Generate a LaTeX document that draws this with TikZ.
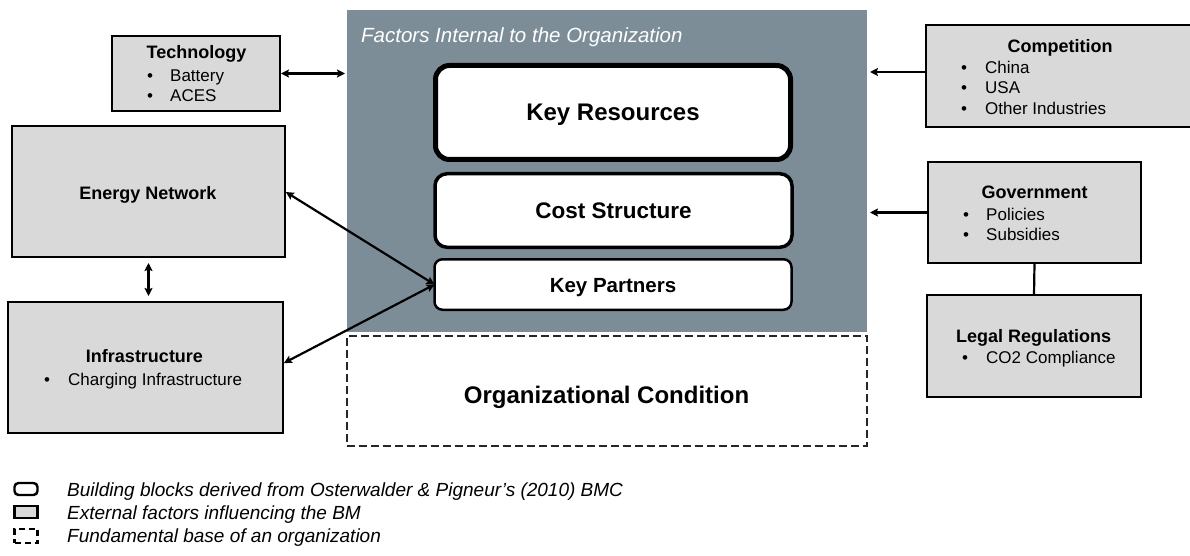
\documentclass[tikz,border=0pt]{standalone}
\usepackage{fontspec}
\setmainfont{Liberation Sans}
\usetikzlibrary{arrows.meta}
\definecolor{panelgray}{RGB}{125,141,152}
\definecolor{boxgray}{RGB}{217,217,217}

\begin{document}
\begin{tikzpicture}[x=1pt,y=-1pt,
  ext/.style={draw=black, fill=boxgray, line width=2.4pt, inner sep=0pt, outer sep=0pt},
  block/.style={draw=black, fill=white, rounded corners=#1, inner sep=0pt, outer sep=0pt},
  ttl/.style={font=\fontsize{18}{20}\selectfont\bfseries, anchor=base, inner sep=0pt},
  itm/.style={font=\fontsize{17}{20}\selectfont, anchor=base west, inner sep=0pt},
  bul/.style={font=\fontsize{17}{20}\selectfont, anchor=base, inner sep=0pt},
  legtxt/.style={font=\fontsize{19}{21}\selectfont\itshape, anchor=base west, inner sep=0pt},
  both/.style={line width=2.2pt, {Stealth[length=8pt,width=8pt,inset=1.5pt]}-{Stealth[length=8pt,width=8pt,inset=1.5pt]}},
  single/.style={line width=2.2pt, -{Stealth[length=8pt,width=8pt,inset=1.5pt]}},
]
\useasboundingbox (0,0) rectangle (1190,556);

% internal factors panel and the organizational base
\node[fill=panelgray, minimum width=520pt, minimum height=322pt, inner sep=0pt, outer sep=0pt] (panel) at (607,171) {};
\node[font=\fontsize{20.5}{22}\selectfont\itshape, text=white, anchor=base west, inner sep=0pt] (paneltitle) at (361,43) {Factors Internal to the Organization};
\node[draw=black!85, dash pattern=on 8pt off 4pt, line width=1.3pt, minimum width=520pt, minimum height=110pt, inner sep=0pt, outer sep=0pt] (org) at (607,391) {};
\node[font=\fontsize{24}{26}\selectfont\bfseries, anchor=base, inner sep=0pt] (orgtxt) at (606.5,403) {Organizational Condition};

% building blocks
\node[block=14pt, line width=5pt, minimum width=355pt, minimum height=94pt] (kr) at (613,112.5) {};
\node[font=\fontsize{24}{26}\selectfont\bfseries, anchor=base, inner sep=0pt] (krtxt) at (613,121) {Key Resources};
\node[block=12pt, line width=3.5pt, minimum width=357pt, minimum height=73.5pt] (cs) at (613.5,210.5) {};
\node[font=\fontsize{22.5}{24}\selectfont\bfseries, anchor=base, inner sep=0pt] (cstxt) at (613.5,218) {Cost Structure};
\node[block=8pt, line width=2.5pt, minimum width=357pt, minimum height=50.5pt] (kp) at (613,284.5) {};
\node[font=\fontsize{20.5}{22}\selectfont\bfseries, anchor=base, inner sep=0pt] (kptxt) at (613,292) {Key Partners};

% external factors, left
\node[ext, minimum width=168pt, minimum height=75pt] (tech) at (196,73.5) {};
\node[ttl] (techt) at (196.5,59) {Technology};
\node[bul] (techb1) at (150,82) {•};
\node[itm] (techi1) at (170,82) {Battery};
\node[bul] (techb2) at (150,102) {•};
\node[itm] (techi2) at (170,102) {ACES};

\node[ext, minimum width=273pt, minimum height=131pt] (energy) at (148.5,191.5) {};
\node[ttl] (energyt) at (148,199) {Energy Network};

\node[ext, minimum width=275pt, minimum height=131pt] (infra) at (145.5,367.5) {};
\node[ttl] (infrat) at (144.5,362) {Infrastructure};
\node[bul] (infrab1) at (47,385) {•};
\node[itm] (infrai1) at (68,385) {Charging Infrastructure};

% external factors, right
\node[ext, minimum width=274pt, minimum height=102pt] (comp) at (1063,76) {};
\node[ttl] (compt) at (1060,53) {Competition};
\node[bul] (compb1) at (964,74) {•};
\node[itm] (compi1) at (985,74) {China};
\node[bul] (compb2) at (964,94) {•};
\node[itm] (compi2) at (985,94) {USA};
\node[bul] (compb3) at (964,115) {•};
\node[itm] (compi3) at (985,115) {Other Industries};

\node[ext, minimum width=213pt, minimum height=101pt] (gov) at (1034.5,212.5) {};
\node[ttl] (govt) at (1034.5,198) {Government};
\node[bul] (govb1) at (966,220) {•};
\node[itm] (govi1) at (986,220) {Policies};
\node[bul] (govb2) at (966,240) {•};
\node[itm] (govi2) at (986,240) {Subsidies};

\node[ext, minimum width=214pt, minimum height=102pt] (legal) at (1034,346) {};
\node[ttl] (legalt) at (1033.5,342) {Legal Regulations};
\node[bul] (legalb1) at (965,363) {•};
\node[itm] (legali1) at (986,363) {CO2 Compliance};

% connectors
\draw[both, shorten <=1pt, shorten >=2pt] (tech.east) -- (tech.east -| panel.west);
\draw[both, shorten <=6pt, shorten >=6pt] (energy.south) -- (infra.north -| energy.south);
\draw[both, shorten <=1pt] (energy.east) -- (kp.west);
\draw[both, shorten <=1pt] ([yshift=4pt]infra.east) -- (kp.west);
\draw[single, shorten >=3pt] ([yshift=4pt]comp.west) -- ([yshift=4pt]comp.west -| panel.east);
\draw[single, shorten >=3pt] (gov.west) -- (gov.west -| panel.east);
\draw[line width=2.2pt] (gov.south) -- (legal.north);

% legend
\node[block=4pt, line width=2.4pt, minimum width=23pt, minimum height=12pt] (leg1) at (26,489) {};
\node[legtxt] (leg1t) at (67,496) {Building blocks derived from Osterwalder \& Pigneur’s (2010) BMC};
\node[ext, line width=2.4pt, minimum width=23pt, minimum height=12pt] (leg2) at (26,512) {};
\node[legtxt] (leg2t) at (67,519) {External factors influencing the BM};
\node[draw=black, line width=2.8pt, dash pattern=on 6pt off 4pt, minimum width=23pt, minimum height=14pt, inner sep=0pt, outer sep=0pt] (leg3) at (26,536) {};
\node[legtxt] (leg3t) at (67,542) {Fundamental base of an organization};
\end{tikzpicture}
\end{document}
